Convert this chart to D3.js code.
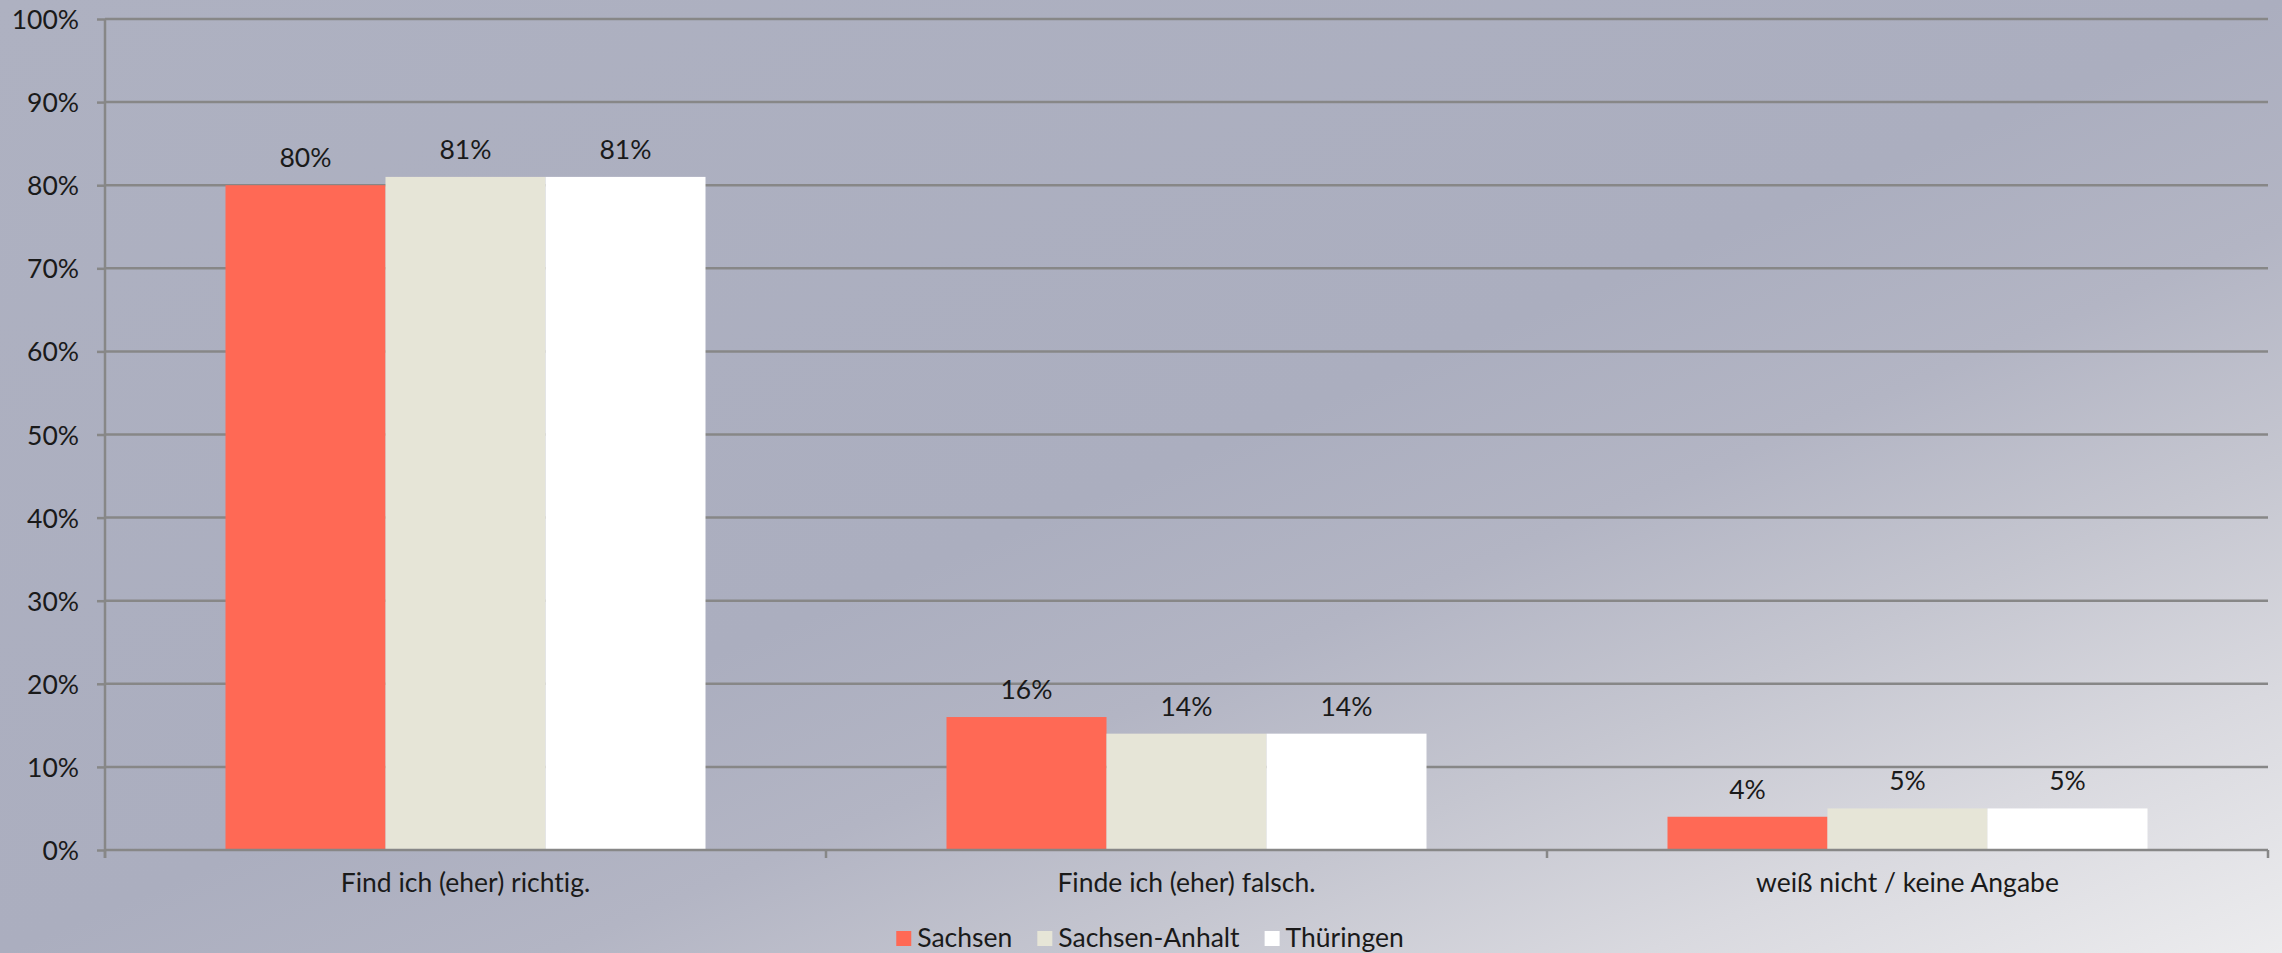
<!DOCTYPE html>
<html>
<head>
<meta charset="utf-8">
<script src="https://cdn.jsdelivr.net/npm/d3@7"></script>
<style>
  html, body { margin: 0; padding: 0; overflow: hidden; }
  svg { display: block; }
  text { font-family: Lato, "Open Sans", sans-serif; fill: #1a1a1a; font-variant-ligatures: none; }
</style>
</head>
<body>
<svg id="chart" width="2282" height="953"></svg>
<script>
const categories = ["Find ich (eher) richtig.", "Finde ich (eher) falsch.", "weiß nicht / keine Angabe"];
const seriesNames = ["Sachsen", "Sachsen-Anhalt", "Thüringen"];
const sachsen = [80, 16, 4];
const sachsenAnhalt = [81, 14, 5];
const thueringen = [81, 14, 5];
const yTicks = [0, 10, 20, 30, 40, 50, 60, 70, 80, 90, 100];
const colors = ["#ff6955", "#e6e5d7", "#ffffff"];

const seriesValues = [sachsen, sachsenAnhalt, thueringen];
const W = 2282, H = 953;
const mLeft = 105, mRight = 2268, mTop = 19, mBottom = 850;
const gridColor = "#878787";
const fontSize = 26.5;

const svg = d3.select("#chart");
const defs = svg.append("defs");
const grad = defs.append("linearGradient").attr("id", "bg")
  .attr("x1", 0).attr("y1", 0).attr("x2", 1).attr("y2", 1);
[[0, "#aeb1c1"], [0.5, "#abaebf"], [0.62, "#b3b5c4"], [0.74, "#c5c6d0"], [0.86, "#d9d9df"], [1, "#ececee"]]
  .forEach(([o, c]) => grad.append("stop").attr("offset", o).attr("stop-color", c));
svg.append("rect").attr("width", W).attr("height", H).attr("fill", "url(#bg)");

const y = d3.scaleLinear().domain([0, 100]).range([mBottom, mTop]);
const pIn = 1 - 480 / 721;
const x0 = d3.scaleBand().domain(categories).range([mLeft, mRight]).paddingInner(pIn).paddingOuter(pIn / 2);
const x1 = d3.scaleBand().domain(seriesNames).range([0, x0.bandwidth()]);

// gridlines
svg.append("g").selectAll("line").data(yTicks.filter(d => d > 0)).join("line")
  .attr("x1", mLeft).attr("x2", mRight)
  .attr("y1", d => y(d)).attr("y2", d => y(d))
  .attr("stroke", gridColor).attr("stroke-width", 2.5);

// y axis
const yAxis = svg.append("g").attr("transform", `translate(${mLeft},0)`)
  .call(d3.axisLeft(y).tickValues(yTicks).tickSize(8).tickPadding(18).tickFormat(d => d + "%"));
yAxis.select(".domain").remove();
yAxis.selectAll(".tick line").attr("stroke", gridColor).attr("stroke-width", 2.5);
yAxis.selectAll(".tick text").attr("font-size", fontSize).attr("font-family", "Lato, 'Open Sans', sans-serif")
  .attr("fill", "#1a1a1a").attr("dy", "0.36em");
svg.append("line").attr("x1", mLeft).attr("x2", mLeft).attr("y1", mTop).attr("y2", mBottom + 8)
  .attr("stroke", gridColor).attr("stroke-width", 2.5);

// bars
const groups = svg.append("g").selectAll("g").data(categories).join("g")
  .attr("transform", c => `translate(${x0(c)},0)`);
groups.selectAll("rect").data((c, i) => seriesNames.map((s, j) => ({ s, v: seriesValues[j][i], j })))
  .join("rect")
  .attr("x", d => x1(d.s)).attr("width", x1.bandwidth())
  .attr("y", d => y(d.v)).attr("height", d => y(0) - y(d.v))
  .attr("fill", d => colors[d.j]);
groups.selectAll("text").data((c, i) => seriesNames.map((s, j) => ({ s, v: seriesValues[j][i], j })))
  .join("text")
  .attr("x", d => x1(d.s) + x1.bandwidth() / 2).attr("y", d => y(d.v) - 18)
  .attr("text-anchor", "middle").attr("font-size", fontSize)
  .text(d => d.v + "%");

// x axis
svg.append("line").attr("x1", mLeft).attr("x2", mRight).attr("y1", y(0)).attr("y2", y(0))
  .attr("stroke", gridColor).attr("stroke-width", 2.5);
const step = x0.step();
const bounds = d3.range(categories.length + 1).map(i => mLeft + i * step);
svg.append("g").selectAll("line").data(bounds).join("line")
  .attr("x1", d => d).attr("x2", d => d).attr("y1", y(0)).attr("y2", y(0) + 8)
  .attr("stroke", gridColor).attr("stroke-width", 2.5);
svg.append("g").selectAll("text").data(categories).join("text")
  .attr("x", c => x0(c) + x0.bandwidth() / 2).attr("y", 892)
  .attr("text-anchor", "middle").attr("font-size", fontSize)
  .text(c => c);

// legend
const leg = svg.append("g");
const items = leg.selectAll("g").data(seriesNames).join("g");
items.append("rect").attr("width", 15).attr("height", 15).attr("y", 931)
  .attr("fill", (d, i) => colors[i]);
items.append("text").attr("x", 21).attr("y", 946.5).attr("font-size", fontSize).text(d => d);
const widths = [];
items.each(function() { widths.push(21 + d3.select(this).select("text").node().getComputedTextLength()); });
const gap = 25;
const total = d3.sum(widths) + gap * (widths.length - 1);
let cx = 1150 - total / 2;
items.each(function(d, i) {
  d3.select(this).attr("transform", `translate(${cx},0)`);
  cx += widths[i] + gap;
});
</script>
</body>
</html>
